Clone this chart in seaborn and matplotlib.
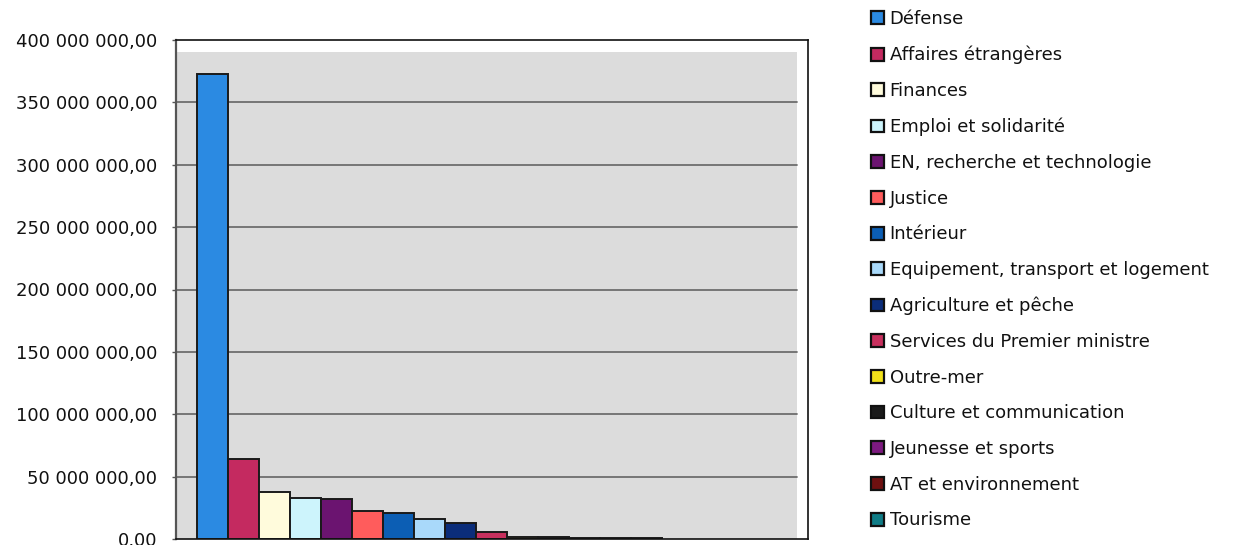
import matplotlib
matplotlib.use("Agg")
import matplotlib.pyplot as plt
from matplotlib.patches import Patch, Rectangle
from matplotlib.ticker import FuncFormatter
import pandas as pd
import seaborn as sns

# Budget par ministère
ministeres = [
    "Défense",
    "Affaires étrangères",
    "Finances",
    "Emploi et solidarité",
    "EN, recherche et technologie",
    "Justice",
    "Intérieur",
    "Equipement, transport et logement",
    "Agriculture et pêche",
    "Services du Premier ministre",
    "Outre-mer",
    "Culture et communication",
    "Jeunesse et sports",
    "AT et environnement",
    "Tourisme",
]
montants = [
    373_000_000, 64_300_000, 37_700_000, 32_900_000, 32_400_000,
    22_600_000, 20_700_000, 15_700_000, 13_000_000, 5_800_000,
    2_000_000, 1_500_000, 1_100_000, 800_000, 500_000,
]
couleurs = [
    "#2b8ae2", "#c42a60", "#fffbdc", "#cdf4fc", "#6b1470",
    "#ff5c5c", "#0c5eb4", "#a9d9fa", "#0b2d7a", "#c8305e",
    "#f2e21a", "#1a1a1a", "#7d1a80", "#6e1010", "#0f7c86",
]
graduations = [0, 50_000_000, 100_000_000, 150_000_000, 200_000_000,
               250_000_000, 300_000_000, 350_000_000, 400_000_000]

df = pd.DataFrame({"ministere": ministeres, "montant": montants})

sns.set_theme(style="white")
plt.rcParams["font.family"] = ["DejaVu Sans"]

W, H = 1236, 545
fig = plt.figure(figsize=(W / 100, H / 100), dpi=100)
ax = fig.add_axes([176 / W, 1 - 539 / H, 632 / W, 499 / H])
ax.set_facecolor("white")

# grey plot area (slightly inset from the chart frame)
gx, gy = 621 / 632, (539 - 52) / 499
ax.add_patch(Rectangle((0, 0), gx, gy, transform=ax.transAxes,
                       facecolor="#dcdcdc", edgecolor="none", zorder=0))
for g in graduations[1:-1]:
    ax.axhline(g, xmin=0, xmax=gx, color="#6e6e6e", lw=1.3, zorder=1)

sns.barplot(data=df, x="ministere", y="montant", hue="ministere",
            palette=couleurs, width=1.0, saturation=1, edgecolor="#1a1a1a",
            linewidth=1.4, legend=False, ax=ax, zorder=2)

bar_px = 31.0
left_units = (197 - 176) / bar_px
ax.set_xlim(-0.5 - left_units, -0.5 - left_units + 632 / bar_px)
ax.set_ylim(0, 400_000_000)
ax.set_yticks(graduations)


def fr_format(v, _):
    s = f"{v:,.2f}"
    return s.replace(",", " ").replace(".", ",")


ax.yaxis.set_major_formatter(FuncFormatter(fr_format))
ax.set_xticks([])
ax.set_xlabel("")
ax.set_ylabel("")
ax.tick_params(axis="y", which="major", direction="out", length=3,
               width=1, color="#555555", pad=10.5, labelsize=13,
               labelcolor="#111111", left=True)

for side in ["top", "right", "bottom"]:
    ax.spines[side].set_color("#111111")
    ax.spines[side].set_linewidth(1.2)
ax.spines["left"].set_color("#555555")
ax.spines["left"].set_linewidth(1.6)

handles = [Patch(facecolor=c, edgecolor="#111111", linewidth=1.6, label=m)
           for m, c in zip(ministeres, couleurs)]
fig.legend(handles=handles, loc="upper left",
           bbox_to_anchor=(864 / W, 1 - 3 / H), frameon=False,
           fontsize=13, handlelength=0.72, handleheight=0.72,
           handletextpad=0.3, labelspacing=0.98, borderaxespad=0,
           labelcolor="#111111")

fig.savefig("out.png", dpi=100)
